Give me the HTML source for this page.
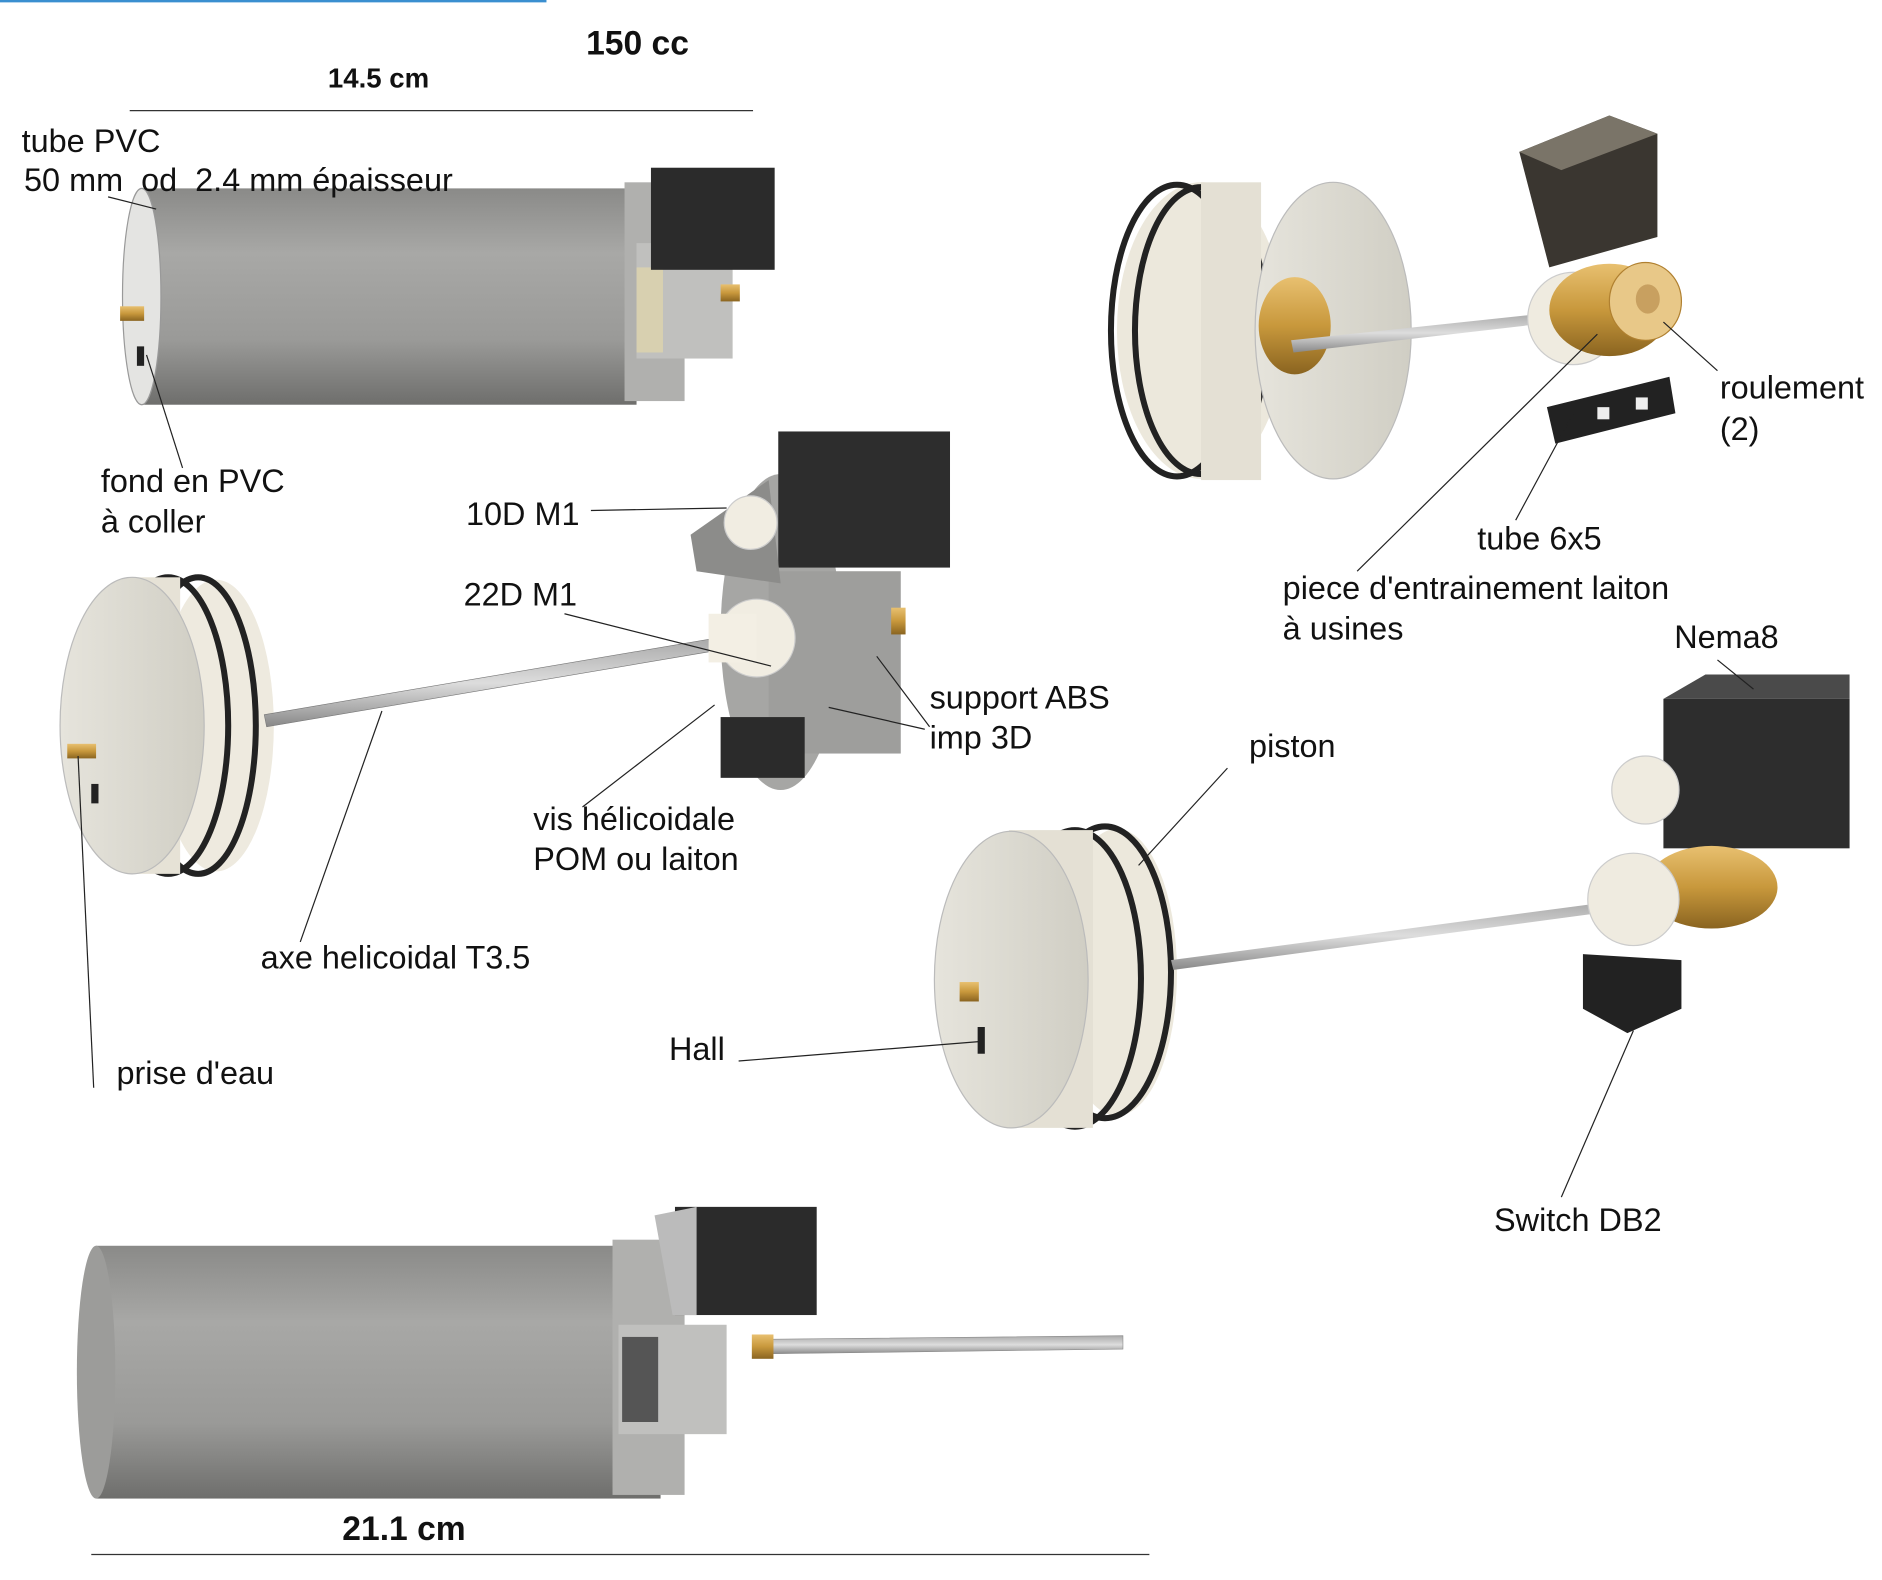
<!DOCTYPE html>
<html><head><meta charset="utf-8"><style>
html,body{margin:0;padding:0;background:#fff;}
svg{display:block;}
text{font-family:"Liberation Sans",sans-serif;fill:#111;white-space:pre;}
</style></head><body>
<svg width="1882" height="1580" viewBox="0 0 1567 1300" preserveAspectRatio="none" xmlns="http://www.w3.org/2000/svg" xml:space="preserve">
<defs>
<linearGradient id="cyl" x1="0" y1="0" x2="0" y2="1">
<stop offset="0" stop-color="#8a8a88"/><stop offset="0.3" stop-color="#a8a8a6"/><stop offset="0.7" stop-color="#9a9a98"/><stop offset="1" stop-color="#6e6e6c"/></linearGradient>
<linearGradient id="disk" x1="0" y1="0" x2="1" y2="0">
<stop offset="0" stop-color="#e6e4dc"/><stop offset="1" stop-color="#d0cec4"/></linearGradient>
<linearGradient id="rod" x1="0" y1="0" x2="0" y2="1">
<stop offset="0" stop-color="#aaa"/><stop offset="0.5" stop-color="#ddd"/><stop offset="1" stop-color="#888"/></linearGradient>
<linearGradient id="brass" x1="0" y1="0" x2="0" y2="1">
<stop offset="0" stop-color="#e8c070"/><stop offset="0.5" stop-color="#c8983c"/><stop offset="1" stop-color="#8a6420"/></linearGradient>
</defs>
<line x1="0" y1="1" x2="455" y2="1" stroke="#3a8fd0" stroke-width="2"/>
<text x="488" y="45" font-size="28" font-weight="bold">150 cc</text>
<text x="273" y="72" font-size="23" font-weight="bold">14.5 cm</text>
<line x1="108" y1="91" x2="627" y2="91" stroke="#333" stroke-width="1"/>

<!-- top-left cylinder -->
<rect x="118" y="155" width="412" height="178" fill="url(#cyl)"/>
<ellipse cx="118" cy="244" rx="16" ry="89" fill="#e4e4e2" stroke="#999"/>
<rect x="520" y="150" width="50" height="180" fill="#b0b0ae"/>
<rect x="530" y="200" width="80" height="95" fill="#c0c0be"/>
<rect x="530" y="220" width="22" height="70" fill="#d8d0b0"/>
<rect x="542" y="138" width="103" height="84" fill="#2b2b2b"/>
<rect x="600" y="234" width="16" height="14" fill="url(#brass)"/>
<rect x="100" y="252" width="20" height="12" fill="url(#brass)"/>
<rect x="114" y="285" width="6" height="16" fill="#222"/>
<text x="18" y="125" font-size="27">tube PVC</text>
<text x="20" y="157" font-size="27">50 mm  od  2.4 mm épaisseur</text>
<line x1="90" y1="162" x2="130" y2="172" stroke="#222"/>
<text x="84" y="405" font-size="27">fond en PVC</text>
<text x="84" y="438" font-size="27">à coller</text>
<line x1="122" y1="292" x2="152" y2="385" stroke="#222"/>

<!-- middle-left assembly -->
<ellipse cx="180" cy="597" rx="48" ry="120" fill="#eeeadf"/>
<ellipse cx="165" cy="597" rx="48" ry="122" fill="none" stroke="#222" stroke-width="5"/>
<ellipse cx="140" cy="597" rx="50" ry="122" fill="none" stroke="#222" stroke-width="5"/>
<rect x="110" y="475" width="40" height="244" fill="#e6e2d6"/>
<ellipse cx="110" cy="597" rx="60" ry="122" fill="url(#disk)" stroke="#bbb"/>
<polygon points="220,588 590,526 592,536 222,598" fill="url(#rod)" stroke="#777" stroke-width="0.5"/>
<ellipse cx="650" cy="520" rx="50" ry="130" fill="#a6a6a4"/>
<rect x="640" y="470" width="110" height="150" fill="#9e9e9c"/>
<rect x="648" y="355" width="143" height="112" fill="#2d2d2d"/>
<polygon points="575,440 640,395 650,480 580,470" fill="#8c8c8a"/>
<circle cx="625" cy="430" r="22" fill="#f1ede2" stroke="#ccc"/>
<circle cx="630" cy="525" r="32" fill="#f1ede2" stroke="#ccc"/>
<rect x="590" y="505" width="40" height="40" fill="#f3efe4"/>
<rect x="600" y="590" width="70" height="50" fill="#2b2b2b"/>
<rect x="742" y="500" width="12" height="22" fill="url(#brass)"/>
<rect x="56" y="612" width="24" height="12" fill="url(#brass)"/>
<rect x="76" y="645" width="6" height="16" fill="#222"/>
<text x="388" y="432" font-size="27">10D M1</text>
<line x1="492" y1="420" x2="605" y2="418" stroke="#222"/>
<text x="386" y="498" font-size="27">22D M1</text>
<line x1="470" y1="505" x2="642" y2="548" stroke="#222"/>
<text x="774" y="583" font-size="27">support ABS</text>
<text x="774" y="616" font-size="27">imp 3D</text>
<line x1="770" y1="600" x2="690" y2="582" stroke="#222"/>
<line x1="774" y1="598" x2="730" y2="540" stroke="#222"/>
<text x="444" y="683" font-size="27">vis hélicoidale</text>
<text x="444" y="716" font-size="27">POM ou laiton</text>
<line x1="485" y1="664" x2="595" y2="580" stroke="#222"/>
<text x="217" y="797" font-size="27">axe helicoidal T3.5</text>
<line x1="250" y1="775" x2="318" y2="585" stroke="#222"/>
<text x="97" y="892" font-size="27">prise d'eau</text>
<line x1="78" y1="895" x2="65" y2="622" stroke="#222"/>

<!-- top-right -->
<ellipse cx="1000" cy="272" rx="70" ry="122" fill="#ece8dc"/>
<ellipse cx="1000" cy="272" rx="55" ry="118" fill="none" stroke="#222" stroke-width="5"/>
<ellipse cx="980" cy="272" rx="55" ry="120" fill="none" stroke="#222" stroke-width="5"/>
<rect x="1000" y="150" width="50" height="245" fill="#e4e0d4"/>
<ellipse cx="1110" cy="272" rx="65" ry="122" fill="url(#disk)" stroke="#bbb"/>
<ellipse cx="1078" cy="268" rx="30" ry="40" fill="url(#brass)"/>
<polygon points="1075,280 1285,258 1287,266 1077,290" fill="url(#rod)"/>
<circle cx="1310" cy="262" r="38" fill="#efebe0" stroke="#ccc"/>
<ellipse cx="1340" cy="255" rx="50" ry="38" fill="url(#brass)"/>
<ellipse cx="1370" cy="248" rx="30" ry="32" fill="#e8c888" stroke="#b08030"/>
<ellipse cx="1372" cy="246" rx="10" ry="12" fill="#c8a060"/>
<polygon points="1265,125 1340,95 1380,110 1380,195 1290,220" fill="#3a3630"/>
<polygon points="1265,125 1340,95 1380,110 1300,140" fill="#7a7468"/>
<polygon points="1288,335 1390,310 1395,340 1295,365" fill="#222"/>
<rect x="1330" y="335" width="10" height="10" fill="#eee"/>
<rect x="1362" y="327" width="10" height="10" fill="#eee"/>
<text x="1432" y="328" font-size="27">roulement</text>
<text x="1432" y="362" font-size="27">(2)</text>
<line x1="1430" y1="305" x2="1385" y2="265" stroke="#222"/>
<text x="1230" y="452" font-size="27">tube 6x5</text>
<line x1="1262" y1="428" x2="1310" y2="340" stroke="#222"/>
<text x="1068" y="493" font-size="27">piece d'entrainement laiton</text>
<text x="1068" y="526" font-size="27">à usines</text>
<line x1="1130" y1="470" x2="1330" y2="275" stroke="#222"/>

<!-- middle-right -->
<ellipse cx="930" cy="800" rx="50" ry="118" fill="#ece8dc"/>
<ellipse cx="920" cy="800" rx="55" ry="120" fill="none" stroke="#222" stroke-width="5"/>
<ellipse cx="895" cy="805" rx="55" ry="122" fill="none" stroke="#222" stroke-width="5"/>
<rect x="840" y="683" width="70" height="245" fill="#e4e0d4"/>
<ellipse cx="842" cy="806" rx="64" ry="122" fill="url(#disk)" stroke="#bbb"/>
<polygon points="975,790 1340,742 1341,750 977,798" fill="url(#rod)"/>
<rect x="1385" y="575" width="155" height="123" fill="#2d2d2d"/>
<polygon points="1385,575 1420,555 1540,555 1540,575" fill="#4a4a4a"/>
<ellipse cx="1425" cy="730" rx="55" ry="34" fill="url(#brass)"/>
<circle cx="1370" cy="650" r="28" fill="#efebe0" stroke="#ccc"/>
<circle cx="1360" cy="740" r="38" fill="#efebe0" stroke="#ccc"/>
<polygon points="1318,785 1400,790 1400,830 1355,850 1318,830" fill="#222"/>
<rect x="799" y="808" width="16" height="16" fill="url(#brass)"/>
<rect x="814" y="845" width="6" height="22" fill="#222"/>
<text x="1394" y="533" font-size="27">Nema8</text>
<line x1="1430" y1="543" x2="1460" y2="567" stroke="#222"/>
<text x="1040" y="623" font-size="27">piston</text>
<line x1="1022" y1="632" x2="948" y2="712" stroke="#222"/>
<text x="557" y="872" font-size="27">Hall</text>
<line x1="615" y1="873" x2="815" y2="857" stroke="#222"/>
<text x="1244" y="1013" font-size="27">Switch DB2</text>
<line x1="1300" y1="985" x2="1360" y2="848" stroke="#222"/>

<!-- bottom cylinder -->
<rect x="80" y="1025" width="470" height="208" fill="url(#cyl)"/>
<ellipse cx="80" cy="1129" rx="16" ry="104" fill="#9c9c9a"/>
<rect x="510" y="1020" width="60" height="210" fill="#b0b0ae"/>
<rect x="515" y="1090" width="90" height="90" fill="#c0c0be"/>
<rect x="518" y="1100" width="30" height="70" fill="#555"/>
<rect x="562" y="993" width="118" height="89" fill="#2b2b2b"/>
<polygon points="545,1000 580,993 580,1082 560,1082" fill="#bbb"/>
<polygon points="630,1102 935,1099 935,1110 630,1114" fill="url(#rod)" stroke="#888" stroke-width="0.5"/>
<rect x="626" y="1098" width="18" height="20" fill="url(#brass)"/>
<text x="285" y="1267" font-size="28" font-weight="bold">21.1 cm</text>
<line x1="76" y1="1279" x2="957" y2="1279" stroke="#333" stroke-width="1"/>
</svg>
</body></html>
